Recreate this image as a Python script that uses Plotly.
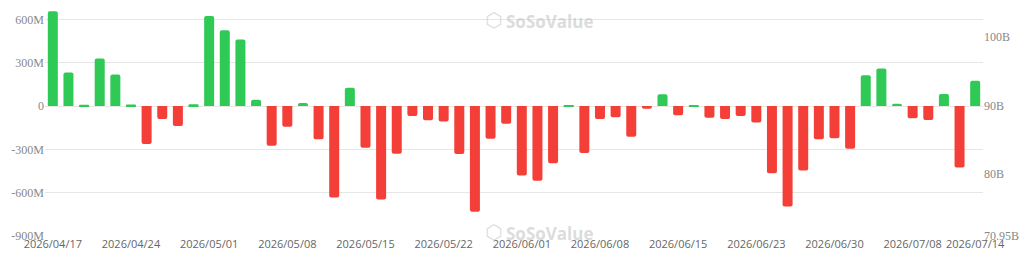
import plotly.graph_objects as go

dates = [
    "2026/04/17", "2026/04/20", "2026/04/21", "2026/04/22", "2026/04/23", "2026/04/24",
    "2026/04/27", "2026/04/28", "2026/04/29", "2026/04/30", "2026/05/01",
    "2026/05/04", "2026/05/05", "2026/05/06", "2026/05/07", "2026/05/08",
    "2026/05/11", "2026/05/12", "2026/05/13", "2026/05/14", "2026/05/15",
    "2026/05/18", "2026/05/19", "2026/05/20", "2026/05/21", "2026/05/22",
    "2026/05/26", "2026/05/27", "2026/05/28", "2026/05/29",
    "2026/06/01", "2026/06/02", "2026/06/03", "2026/06/04", "2026/06/05",
    "2026/06/08", "2026/06/09", "2026/06/10", "2026/06/11", "2026/06/12",
    "2026/06/15", "2026/06/16", "2026/06/17", "2026/06/18",
    "2026/06/22", "2026/06/23", "2026/06/24", "2026/06/25", "2026/06/26",
    "2026/06/29", "2026/06/30", "2026/07/01", "2026/07/02",
    "2026/07/06", "2026/07/07", "2026/07/08", "2026/07/09", "2026/07/10",
    "2026/07/13", "2026/07/14",
]

# daily net inflow, millions USD
net_inflow_m = [
    656, 233, 9, 330, 219, 10, -263, -90, -138, 12,
    624, 525, 461, 44, -275, -143, 22, -230, -634, 127,
    -288, -647, -330, -69, -99, -107, -332, -732, -226, -122,
    -481, -518, -396, 3, -325, -90, -78, -212, -18, 81,
    -64, 8, -81, -90, -69, -113, -465, -696, -447, -230,
    -223, -295, 214, 260, 16, -85, -97, 83, -426, 175,
]

x_tick_labels = [
    "2026/04/17", "2026/04/24", "2026/05/01", "2026/05/08", "2026/05/15", "2026/05/22",
    "2026/06/01", "2026/06/08", "2026/06/15", "2026/06/23", "2026/06/30", "2026/07/08", "2026/07/14",
]

left_tick_vals = [-900, -600, -300, 0, 300, 600]
left_tick_text = ["-900M", "-600M", "-300M", "0", "300M", "600M"]
right_tick_vals = [70.95, 80, 90, 100]
right_tick_text = ["70.95B", "80B", "90B", "100B"]

GREEN = "#2fc955"
RED = "#f43f38"
colors = [GREEN if v >= 0 else RED for v in net_inflow_m]

fig = go.Figure()
fig.add_trace(go.Bar(
    x=dates, y=net_inflow_m, marker=dict(color=colors, line=dict(width=0), cornerradius=2),
    showlegend=False, hoverinfo="x+y",
))
fig.add_trace(go.Scatter(x=[], y=[], yaxis="y2", showlegend=False, hoverinfo="skip"))

serif = "Liberation Serif"
fig.update_layout(
    width=1024, height=259,
    margin=dict(l=45, r=41, t=5, b=23),
    paper_bgcolor="white", plot_bgcolor="white",
    bargap=0.36,
    xaxis=dict(
        type="category", categoryorder="array", categoryarray=dates,
        range=[-0.5, len(dates) - 0.5],
        tickvals=x_tick_labels, ticktext=x_tick_labels,
        tickfont=dict(family="Open Sans", size=11, color="#666"),
        showgrid=False, ticks="", showline=False, zeroline=False,
        tickangle=0,
    ),
    yaxis=dict(
        range=[-900, 700], tickvals=left_tick_vals, ticktext=left_tick_text,
        tickfont=dict(family=serif, size=12, color="#888"),
        showgrid=True, gridcolor="#e6e6e6", gridwidth=1,
        zeroline=False, showline=False, ticks="", ticklen=0,
    ),
    yaxis2=dict(
        overlaying="y", side="right", range=[70.95, 104.67],
        tickvals=right_tick_vals, ticktext=right_tick_text,
        tickfont=dict(family=serif, size=12, color="#888"),
        showgrid=False, zeroline=False, showline=False, ticks="",
    ),
)

wm = "rgba(190,190,190,0.55)"
for yy, sub in ((0.985, True), (0.07, False)):
    fig.add_annotation(xref="paper", yref="paper", x=0.5, y=yy, xanchor="left", yanchor="top",
                       text="<b>SoSoValue</b>", showarrow=False,
                       font=dict(family="Open Sans", size=17, color=wm), xshift=-10)
    fig.add_annotation(xref="paper", yref="paper", x=0.5, y=yy, xanchor="right", yanchor="top",
                       text="⬡", showarrow=False,
                       font=dict(family="DejaVu Sans", size=20, color=wm), xshift=-10, yshift=2)

fig.write_html("out.html")
